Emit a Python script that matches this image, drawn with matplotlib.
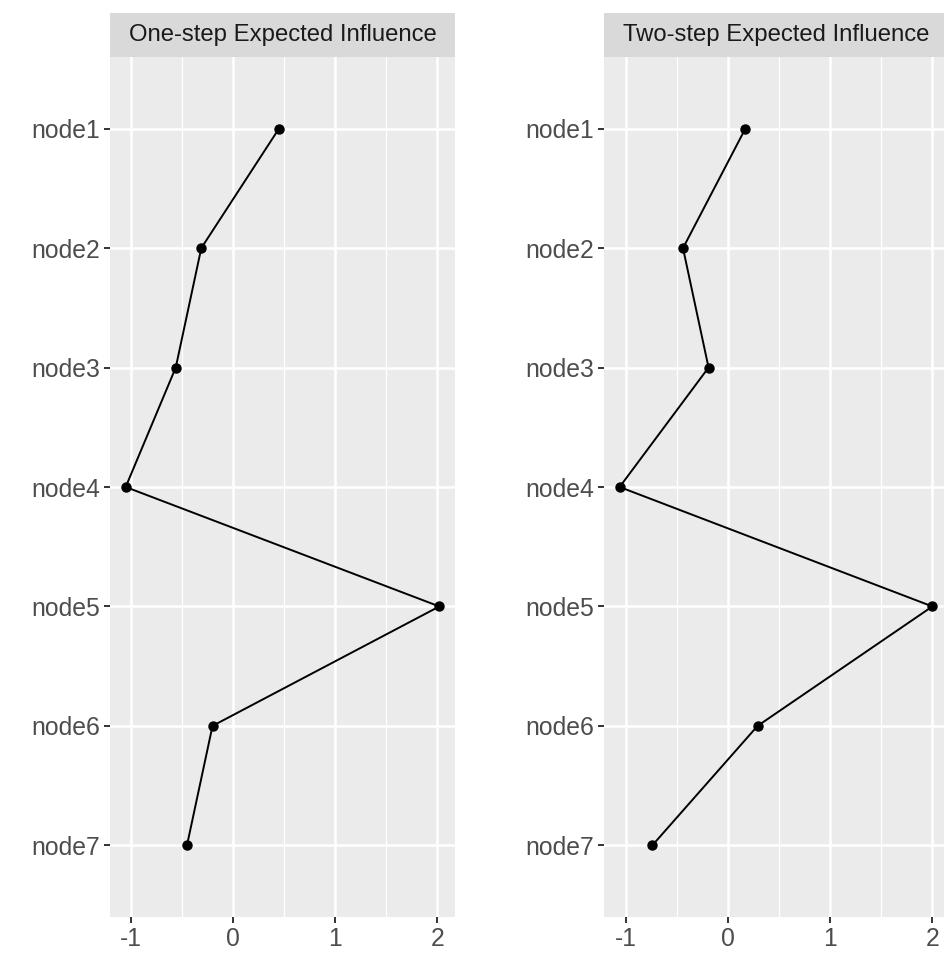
import matplotlib
matplotlib.use('Agg')
import matplotlib.pyplot as plt
import numpy as np

plt.rcParams['font.family'] = ['Liberation Sans', 'DejaVu Sans']

# data
nodes = ['node1', 'node2', 'node3', 'node4', 'node5', 'node6', 'node7']
one_step = [0.45, -0.31, -0.56, -1.05, 2.02, -0.20, -0.45]
two_step = [0.17, -0.44, -0.19, -1.06, 2.00, 0.29, -0.74]
titles = ['One-step Expected Influence', 'Two-step Expected Influence']
x_ticks = [-1, 0, 1, 2]
x_minor = [-0.5, 0.5, 1.5]

W, H = 945, 956
fig = plt.figure(figsize=(W / 100, H / 100), dpi=100)
fig.patch.set_facecolor('white')

# panel boxes in pixels: left, right
panels = [(110, 455), (604, 948)]
top_px, bottom_px, strip_top = 57, 917, 13

for (x0, x1), vals, title in zip(panels, [one_step, two_step], titles):
    ax = fig.add_axes([x0 / W, 1 - bottom_px / H, (x1 - x0) / W, (bottom_px - top_px) / H])
    ax.set_facecolor('#EBEBEB')
    for s in ax.spines.values():
        s.set_visible(False)

    y = np.arange(len(nodes))
    ax.plot(vals, y, color='black', linewidth=1.4, zorder=3)
    ax.plot(vals, y, 'o', color='black', markersize=6.5, zorder=4)

    lo, hi = min(vals), max(vals)
    pad = 0.05 * (hi - lo)
    ax.set_xlim(lo - pad, hi + pad)
    ax.set_ylim(len(nodes) - 0.4, -0.6)

    ax.set_xticks(x_ticks)
    ax.set_xticklabels([str(t) for t in x_ticks])
    ax.set_xticks(x_minor, minor=True)
    ax.set_yticks(y)
    ax.set_yticklabels(nodes)

    ax.grid(True, which='major', color='white', linewidth=1.8, zorder=0)
    ax.grid(True, which='minor', axis='x', color='white', linewidth=0.9, zorder=0)
    ax.set_axisbelow(True)

    ax.tick_params(which='major', length=4, width=1.4, color='#333333',
                   labelsize=17.8, labelcolor='#4D4D4D', pad=3)
    ax.tick_params(which='minor', length=0)

    # facet strip
    sax = fig.add_axes([x0 / W, 1 - top_px / H, (x1 - x0) / W, (top_px - strip_top) / H])
    sax.set_facecolor('#D9D9D9')
    sax.set_xticks([])
    sax.set_yticks([])
    for s in sax.spines.values():
        s.set_visible(False)
    sax.text(0.5, 0.5, title, transform=sax.transAxes, ha='center', va='center',
             fontsize=17.2, color='#1A1A1A')

fig.savefig('out.png', dpi=100, facecolor='white')
